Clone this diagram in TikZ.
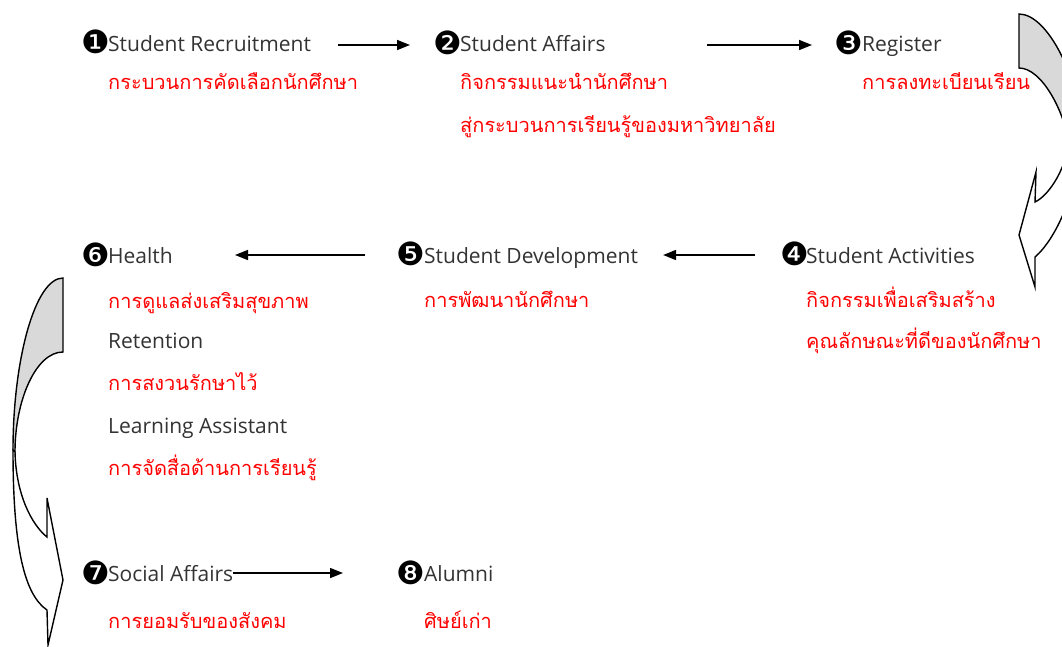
\documentclass[tikz,border=0pt]{standalone}
\usepackage{fontspec}
\setmainfont{Open Sans}
\newfontfamily\thaifont[Script=Thai]{Loma}
\newfontfamily\dingfont{DejaVu Sans}
\usetikzlibrary{arrows.meta}
\tikzset{
  num/.style={font=\dingfont\fontsize{32}{32}\selectfont, inner sep=0pt, anchor=west},
  ttl/.style={font=\fontsize{21}{24}\selectfont, text=black!80, inner sep=0pt, anchor=base west},
  thl/.style={font=\thaifont\fontsize{20}{24}\selectfont, text=red, inner sep=0pt, anchor=base west},
  arr/.style={-{Triangle[length=13pt,width=10pt]}, line width=1.5pt},
  ribbon/.style={draw=black, line width=1.4pt, line join=miter},
}
\begin{document}
\begin{tikzpicture}[x=1pt,y=-1pt]
\useasboundingbox (0,0) rectangle (1062,646);
\clip (0,0) rectangle (1062,646);

% item 1
\node[num] (n1) at (81,42) {❶};
\node[ttl] (t1) at (108,51) {Student Recruitment};
\node[thl] (h1) at (108,89) {กระบวนการคัดเลือกนักศึกษา};
% item 2
\node[num] (n2) at (433,43) {❷};
\node[ttl] (t2) at (460,51) {Student Affairs};
\node[thl] (h2a) at (460,89) {กิจกรรมแนะนำนักศึกษา};
\node[thl] (h2b) at (460,132) {สู่กระบวนการเรียนรู้ของมหาวิทยาลัย};
% item 3
\node[num] (n3) at (834,43) {❸};
\node[ttl] (t3) at (862,51) {Register};
\node[thl] (h3) at (862,89) {การลงทะเบียนเรียน};
% item 4
\node[num] (n4) at (780,254) {❹};
\node[ttl] (t4) at (806,263) {Student Activities};
\node[thl] (h4a) at (806,307) {กิจกรรมเพื่อเสริมสร้าง};
\node[thl] (h4b) at (806,348) {คุณลักษณะที่ดีของนักศึกษา};
% item 5
\node[num] (n5) at (396,254) {❺};
\node[ttl] (t5) at (424,263) {Student Development};
\node[thl] (h5) at (424,307) {การพัฒนานักศึกษา};
% item 6
\node[num] (n6) at (81,255) {❻};
\node[ttl] (t6) at (108,263) {Health};
\node[thl] (h6a) at (108,308) {การดูแลส่งเสริมสุขภาพ};
\node[ttl] (e6b) at (108,348) {Retention};
\node[thl] (h6b) at (108,390) {การสงวนรักษาไว้};
\node[ttl] (e6c) at (108,433) {Learning Assistant};
\node[thl] (h6c) at (108,475) {การจัดสื่อด้านการเรียนรู้};
% item 7
\node[num] (n7) at (81,573) {❼};
\node[ttl] (t7) at (108,581) {Social Affairs};
\node[thl] (h7) at (108,628) {การยอมรับของสังคม};
% item 8
\node[num] (n8) at (396,573) {❽};
\node[ttl] (t8) at (424,581) {Alumni};
\node[thl] (h8) at (424,628) {ศิษย์เก่า};

% straight connectors
\coordinate (c1s) at (338,45);
\coordinate (c2s) at (707,45);
\coordinate (c4s) at (755,255);
\coordinate (c6e) at (235,255);
\coordinate (c8e) at (343,573);
\draw[arr, shorten >=23pt] (c1s) -- (c1s -| n2.west);
\draw[arr, shorten >=22pt] (c2s) -- (c2s -| n3.west);
\draw[arr, shorten >=25pt] (c4s) -- (c4s -| t5.east);
\draw[arr, shorten <=31pt] (c6e -| n5.west) -- (c6e);
\draw[arr] (t7.east |- c8e) -- (c8e);

% right curved arrow
\draw[ribbon, fill=black!15] (1019,14) .. controls (1048,14) and (1080,80) .. (1080,130)
  -- (1068,140) .. controls (1064,112) and (1042,68) .. (1019,68) -- cycle;
\draw[ribbon, fill=white] (1080,130) .. controls (1080,190) and (1055,240) .. (1035,257)
  -- (1035,287) -- (1019,235) -- (1036,172) -- (1035,202)
  .. controls (1050,195) and (1068,165) .. (1068,140) -- cycle;

% left curved arrow
\draw[ribbon, fill=black!15] (63,278) .. controls (35,278) and (13,360) .. (13,450)
  -- (15,452) .. controls (15,400) and (36,352) .. (63,352) -- cycle;
\draw[ribbon, fill=white] (13,450) .. controls (13,550) and (25,595) .. (47,610)
  -- (48,645) -- (63,580) -- (47,498) -- (47,537)
  .. controls (32,525) and (16,495) .. (15,452) -- cycle;
\end{tikzpicture}
\end{document}
